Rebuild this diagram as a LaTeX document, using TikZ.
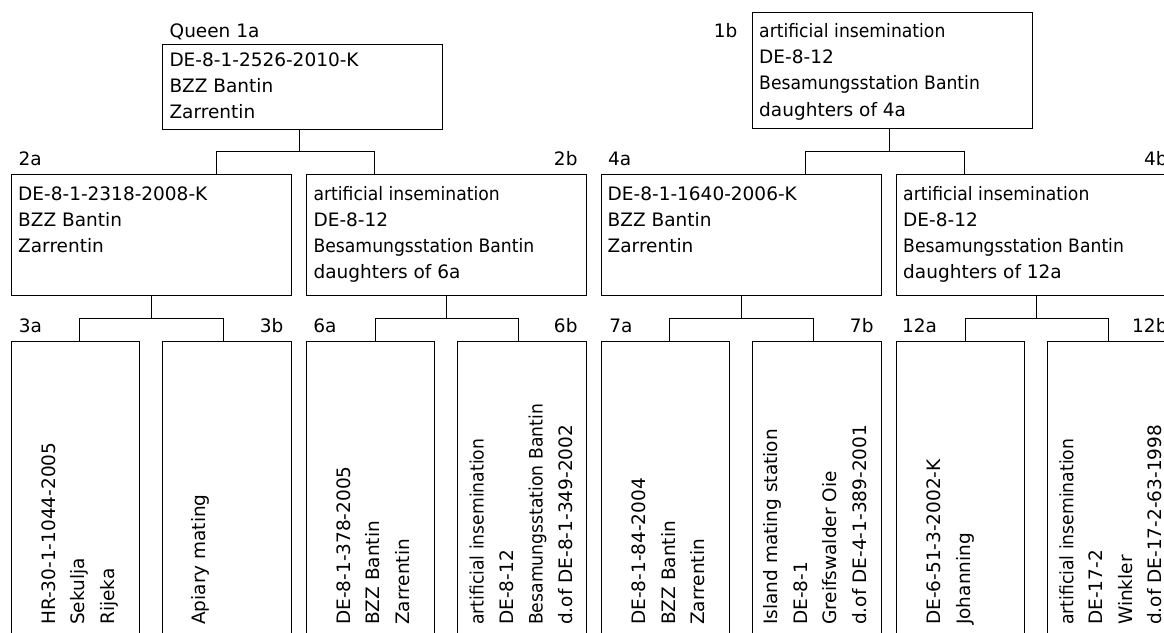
\documentclass[tikz,border=0pt]{standalone}
\usepackage{fontspec}
\setmainfont{DejaVu Sans}
\usepackage{graphicx}
\newcommand{\cnd}[1]{\scalebox{0.93}[1]{#1}}
\newcommand{\hl}[1]{\begin{tabular}[t]{@{}l@{}}#1\end{tabular}}
\tikzset{
  box/.style={draw, line width=1pt, inner sep=0pt, outer sep=0pt, anchor=north west},
  txt/.style={inner sep=0pt, anchor=base west, font=\fontsize{18.5}{26.3}\selectfont},
  vtxt/.style={inner sep=0pt, anchor=base west, rotate=90, font=\fontsize{18.5}{29.5}\selectfont},
  lbl/.style={inner sep=0pt, font=\fontsize{18.5}{22}\selectfont},
  conn/.style={line width=1pt},
}
\begin{document}
\begin{tikzpicture}[x=1pt,y=-1pt]
\clip (0,0) rectangle (1164,632);
% ---------- level 1 ----------
\node[box,minimum width=280.4pt,minimum height=84.7pt] (b1a) at (162.3,44.3) {};
\node[lbl,anchor=base west] (l1a) at (169.5,37.3) {Queen 1a};
\node[txt] (t1a) at (169.3,66) {\hl{DE-8-1-2526-2010-K\\BZZ Bantin\\Zarrentin}};
\node[box,minimum width=280.4pt,minimum height=116.7pt] (b1b) at (752.3,12) {};
\node[lbl,anchor=base east] (l1b) at (737.5,37.3) {1b};
\node[txt] (t1b) at (759,37.3) {\hl{\cnd{artificial insemination}\\DE-8-12\\\cnd{Besamungsstation Bantin}\\daughters of 4a}};
% ---------- level 2 ----------
\node[box,minimum width=280pt,minimum height=121.4pt] (b2a) at (11.7,174.3) {};
\node[box,minimum width=279.7pt,minimum height=121.4pt] (b2b) at (306.3,174.3) {};
\node[box,minimum width=280.3pt,minimum height=121.4pt] (b4a) at (601,174.3) {};
\node[box,minimum width=280pt,minimum height=121.4pt] (b4b) at (896,174.3) {};
\node[lbl,anchor=base west] (l2a) at (18.3,165) {2a};
\node[lbl,anchor=base east] (l2b) at (577.7,165) {2b};
\node[lbl,anchor=base west] (l4a) at (608,165) {4a};
\node[lbl,anchor=base east] (l4b) at (1167.7,165) {4b};
\node[txt] (t2a) at (18,200) {\hl{DE-8-1-2318-2008-K\\BZZ Bantin\\Zarrentin}};
\node[txt] (t2b) at (313.4,200) {\hl{\cnd{artificial insemination}\\DE-8-12\\\cnd{Besamungsstation Bantin}\\daughters of 6a}};
\node[txt] (t4a) at (607.5,200) {\hl{DE-8-1-1640-2006-K\\BZZ Bantin\\Zarrentin}};
\node[txt] (t4b) at (903,200) {\hl{\cnd{artificial insemination}\\DE-8-12\\\cnd{Besamungsstation Bantin}\\daughters of 12a}};
% connectors level 1 -> 2
\coordinate (c1a) at (299,151.7);
\coordinate (c1aL) at (216,151.7);
\coordinate (c1aR) at (374.7,151.7);
\draw[conn] (c1a |- b1a.south) -- (c1a);
\draw[conn] (c1aL |- b2a.north) -- (c1aL) -- (c1aR) -- (c1aR |- b2b.north);
\coordinate (c1b) at (889,151.7);
\coordinate (c1bL) at (805.7,151.7);
\coordinate (c1bR) at (964.3,151.7);
\draw[conn] (c1b |- b1b.south) -- (c1b);
\draw[conn] (c1bL |- b4a.north) -- (c1bL) -- (c1bR) -- (c1bR |- b4b.north);
% ---------- level 3 ----------
\node[box,minimum width=128pt,minimum height=300pt] (b3a) at (11.7,341) {};
\node[box,minimum width=129pt,minimum height=300pt] (b3b) at (162.7,341) {};
\node[box,minimum width=128pt,minimum height=300pt] (b6a) at (306.3,341) {};
\node[box,minimum width=128.5pt,minimum height=300pt] (b6b) at (457.5,341) {};
\node[box,minimum width=128.7pt,minimum height=300pt] (b7a) at (601,341) {};
\node[box,minimum width=129pt,minimum height=300pt] (b7b) at (752.3,341) {};
\node[box,minimum width=128.5pt,minimum height=300pt] (b12a) at (896,341) {};
\node[box,minimum width=128.7pt,minimum height=300pt] (b12b) at (1047.3,341) {};
\node[lbl,anchor=base west] (l3a) at (18.7,332) {3a};
\node[lbl,anchor=base east] (l3b) at (283.5,332) {3b};
\node[lbl,anchor=base west] (l6a) at (313.1,332) {6a};
\node[lbl,anchor=base east] (l6b) at (577.7,332) {6b};
\node[lbl,anchor=base west] (l7a) at (609.2,332) {7a};
\node[lbl,anchor=base east] (l7b) at (873.7,332) {7b};
\node[lbl,anchor=base west] (l12a) at (902,332) {12a};
\node[lbl,anchor=base east] (l12b) at (1167.7,332) {12b};
% connectors level 2 -> 3
\coordinate (c2a) at (151.3,318.3);
\coordinate (c2aL) at (79.3,318.3);
\coordinate (c2aR) at (223.3,318.3);
\draw[conn] (c2a |- b2a.south) -- (c2a);
\draw[conn] (c2aL |- b3a.north) -- (c2aL) -- (c2aR) -- (c2aR |- b3b.north);
\coordinate (c2b) at (446,318.3);
\coordinate (c2bL) at (375,318.3);
\coordinate (c2bR) at (518,318.3);
\draw[conn] (c2b |- b2b.south) -- (c2b);
\draw[conn] (c2bL |- b6a.north) -- (c2bL) -- (c2bR) -- (c2bR |- b6b.north);
\coordinate (c4a) at (741.3,318.3);
\coordinate (c4aL) at (669.3,318.3);
\coordinate (c4aR) at (813.3,318.3);
\draw[conn] (c4a |- b4a.south) -- (c4a);
\draw[conn] (c4aL |- b7a.north) -- (c4aL) -- (c4aR) -- (c4aR |- b7b.north);
\coordinate (c4b) at (1036,318.3);
\coordinate (c4bL) at (965,318.3);
\coordinate (c4bR) at (1108,318.3);
\draw[conn] (c4b |- b4b.south) -- (c4b);
\draw[conn] (c4bL |- b12a.north) -- (c4bL) -- (c4bR) -- (c4bR |- b12b.north);
% vertical texts
\node[vtxt] (t3a) at (55.2,625) {\hl{HR-30-1-1044-2005\\Sekulja\\Rijeka}};
\node[vtxt] (t3b) at (205.2,625) {\hl{Apiary mating}};
\node[vtxt] (t6a) at (350.3,625) {\hl{DE-8-1-378-2005\\BZZ Bantin\\Zarrentin}};
\node[vtxt] (t6b) at (483.5,625) {\hl{\cnd{artificial insemination}\\DE-8-12\\\cnd{Besamungsstation Bantin}\\d.of DE-8-1-349-2002}};
\node[vtxt] (t7a) at (645.5,625) {\hl{DE-8-1-84-2004\\BZZ Bantin\\Zarrentin}};
\node[vtxt] (t7b) at (777.8,625) {\hl{Island mating station\\DE-8-1\\Greifswalder Oie\\d.of DE-4-1-389-2001}};
\node[vtxt] (t12a) at (940.5,625) {\hl{DE-6-51-3-2002-K\\Johanning}};
\node[vtxt] (t12b) at (1073.3,625) {\hl{\cnd{artificial insemination}\\DE-17-2\\Winkler\\d.of DE-17-2-63-1998}};
\end{tikzpicture}
\end{document}
